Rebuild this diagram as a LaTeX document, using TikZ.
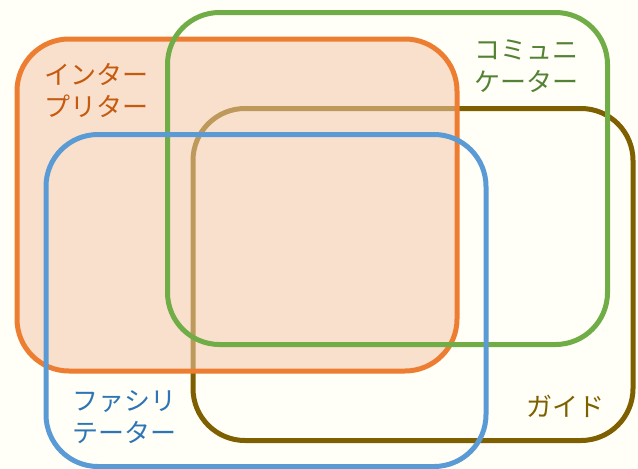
\documentclass[tikz,border=0pt]{standalone}
\usepackage{fontspec}
\newfontfamily\jp{Noto Sans CJK JP}
\definecolor{cream}{RGB}{255,255,248}
\definecolor{oline}{RGB}{237,125,49}
\definecolor{ofill}{RGB}{243,200,168}
\definecolor{gline}{RGB}{112,173,71}
\definecolor{bline}{RGB}{91,155,213}
\definecolor{brline}{RGB}{127,96,0}
\definecolor{otext}{RGB}{197,90,17}
\definecolor{gtext}{RGB}{84,130,53}
\definecolor{btext}{RGB}{46,117,182}
\definecolor{brtext}{RGB}{127,96,0}
\tikzset{
  setbox/.style={rectangle, rounded corners=39pt, line width=3.75pt,
    minimum width=330pt, minimum height=249pt, inner sep=0pt},
  setlabel/.style={font=\jp\fontsize{19.5pt}{24pt}\selectfont, align=left,
    anchor=west, inner sep=0pt}
}
\begin{document}
\begin{tikzpicture}[x=0.75pt,y=-0.75pt]
\fill[cream] (0,0) rectangle (638,468);
\useasboundingbox (0,0) rectangle (638,468);
\node[setbox, draw=brline] (guide) at (413,274.5) {};
\node[setbox, draw=oline, fill=ofill, fill opacity=0.55, draw opacity=1] (interp) at (237,205) {};
\node[setbox, draw=gline] (comm) at (387.5,178.5) {};
\node[setbox, draw=bline] (facil) at (266,300.5) {};
\node[setlabel, text=otext] (tinterp) at (44,90) {インター\\プリター};
\node[setlabel, text=gtext] (tcomm) at (474,66) {コミュニ\\ケーター};
\node[setlabel, text=btext] (tfacil) at (72,417) {ファシリ\\テーター};
\node[setlabel, text=brtext] (tguide) at (526,406) {ガイド};
\end{tikzpicture}
\end{document}
